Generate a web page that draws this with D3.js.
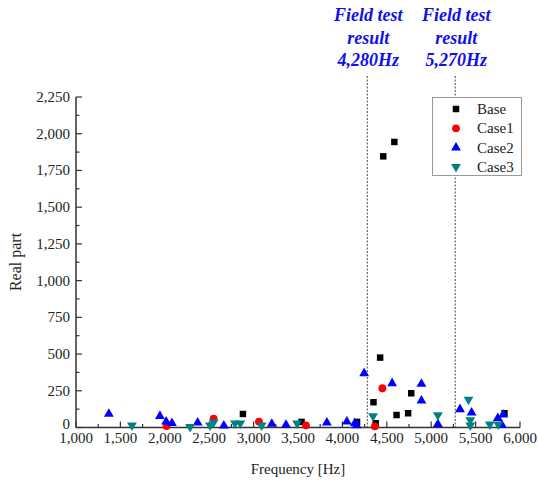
<!DOCTYPE html>
<html>
  <head>
    <meta charset="utf-8">
    <title>Real part vs frequency</title>
    <script src="https://d3js.org/d3.v7.min.js"></script>
    <style>
      body { margin: 0; background: #fff; }
      text { font-family: "Liberation Serif", "Times New Roman", serif; }
    </style>
  </head>
  <body>
    <div id="chart"></div>
    <script>
      // data: [frequency Hz, real part]
      var baseData = [[2880, 92], [3540, 38], [4165, 38], [4350, 172], [4375, 29], [4425, 476],
        [4460, 1846], [4585, 1944], [4610, 85], [4740, 97], [4775, 233], [5825, 97]];
      var case1Data = [[2020, 10], [2550, 60], [3060, 40], [3590, 15], [4365, 8], [4450, 267]];
      var case2Data = [[1370, 92], [1945, 78], [2015, 40], [2080, 29], [2370, 33], [2665, 12],
        [3205, 24], [3365, 17], [3825, 33], [4050, 40], [4140, 29], [4160, 15], [4245, 369],
        [4560, 301], [4890, 296], [4890, 183], [5075, 22], [5325, 124], [5455, 101],
        [5750, 63], [5810, 88], [5795, 17]];
      var case3Data = [[1630, 15], [2285, 5], [2510, 15], [2550, 35], [2790, 28], [2850, 28],
        [3090, 15], [3490, 28], [4345, 78], [5075, 85], [5420, 190], [5440, 50], [5440, 15],
        [5660, 22], [5755, 22]];
      var fieldTests = [4280, 5270];
      var xTicks = [1000, 1500, 2000, 2500, 3000, 3500, 4000, 4500, 5000, 5500, 6000];
      var yTicks = [0, 250, 500, 750, 1000, 1250, 1500, 1750, 2000, 2250];

      var series = [
        { name: "Base", data: baseData, color: "#000000", shape: d3.symbolSquare, size: 42, rot: 0 },
        { name: "Case1", data: case1Data, color: "#ff0000", shape: d3.symbolCircle, size: 48, rot: 0 },
        { name: "Case2", data: case2Data, color: "#0000ff", shape: d3.symbolTriangle, size: 42, rot: 0 },
        { name: "Case3", data: case3Data, color: "#008080", shape: d3.symbolTriangle, size: 42, rot: 180 }
      ];

      var width = 538, height = 481;
      var x = d3.scaleLinear().domain([1000, 6000]).range([76, 520]);
      var y = d3.scaleLinear().domain([0, 2250]).range([427.5, 97]);

      var svg = d3.select("#chart").append("svg")
        .attr("width", width).attr("height", height);

      // field test lines
      svg.selectAll(".ft").data(fieldTests).enter().append("line")
        .attr("x1", d => x(d)).attr("x2", d => x(d))
        .attr("y1", 76).attr("y2", y(0))
        .attr("stroke", "#444").attr("stroke-width", 1)
        .attr("stroke-dasharray", "2,1.5");

      var ann = svg.selectAll(".ann").data(fieldTests).enter().append("text")
        .attr("text-anchor", "middle")
        .attr("fill", "#1010e8")
        .style("font-weight", "bold").style("font-style", "italic").style("font-size", "18px");
      ann.append("tspan").attr("x", d => x(d) + 1).attr("y", 21).text("Field test");
      ann.append("tspan").attr("x", d => x(d) + 1).attr("y", 44).text("result");
      ann.append("tspan").attr("x", d => x(d) + 1).attr("y", 66).text(d => d3.format(",")(d) + "Hz");

      // axes
      var axisColor = "#333";
      var xMinor = d3.range(1250, 6000, 500);
      var yMinor = d3.range(125, 2250, 250);

      svg.append("line").attr("x1", x(1000)).attr("x2", x(6000))
        .attr("y1", y(0)).attr("y2", y(0)).attr("stroke", axisColor).attr("stroke-width", 1.5);
      svg.append("line").attr("x1", x(1000)).attr("x2", x(1000))
        .attr("y1", y(0)).attr("y2", y(2250)).attr("stroke", axisColor).attr("stroke-width", 1.5);

      svg.selectAll(".xt").data(xTicks.concat(xMinor)).enter().append("line")
        .attr("x1", d => x(d)).attr("x2", d => x(d))
        .attr("y1", y(0)).attr("y2", d => y(0) - (xTicks.includes(d) ? 6 : 3.5))
        .attr("stroke", axisColor).attr("stroke-width", 1.2);
      svg.selectAll(".yt").data(yTicks.concat(yMinor)).enter().append("line")
        .attr("y1", d => y(d)).attr("y2", d => y(d))
        .attr("x1", x(1000)).attr("x2", d => x(1000) + (yTicks.includes(d) ? 6 : 3.5))
        .attr("stroke", axisColor).attr("stroke-width", 1.2);

      svg.selectAll(".xl").data(xTicks).enter().append("text")
        .attr("x", d => x(d)).attr("y", 443)
        .attr("text-anchor", "middle").style("font-size", "15px").attr("fill", "#222")
        .text(d => d3.format(",")(d));
      svg.selectAll(".yl").data(yTicks).enter().append("text")
        .attr("x", 70).attr("y", d => y(d) + (d === 0 ? 1 : 5))
        .attr("text-anchor", "end").style("font-size", "15px").attr("fill", "#222")
        .text(d => d3.format(",")(d));

      svg.append("text").attr("x", 298).attr("y", 474).attr("text-anchor", "middle")
        .style("font-size", "15px").attr("fill", "#222").text("Frequency [Hz]");
      svg.append("text").attr("transform", "translate(21,262) rotate(-90)")
        .attr("text-anchor", "middle").style("font-size", "16px").attr("fill", "#222")
        .text("Real part");

      // points
      series.forEach(function(s) {
        var sym = d3.symbol().type(s.shape).size(s.size);
        svg.selectAll(null).data(s.data).enter().append("path")
          .attr("d", sym)
          .attr("transform", d => "translate(" + x(d[0]) + "," + y(d[1]) + ") rotate(" + s.rot + ")")
          .attr("fill", s.color);
      });

      // legend
      var lg = svg.append("g");
      lg.append("rect").attr("x", 432.5).attr("y", 97.5).attr("width", 89).attr("height", 78)
        .attr("fill", "#fff").attr("stroke", "#999").attr("stroke-width", 1);
      series.forEach(function(s, i) {
        var yy = 109 + i * 19.3;
        lg.append("path").attr("d", d3.symbol().type(s.shape).size(s.size)())
          .attr("transform", "translate(456," + yy + ") rotate(" + s.rot + ")")
          .attr("fill", s.color);
        lg.append("text").attr("x", 477).attr("y", yy + 5)
          .style("font-size", "15px").attr("fill", "#222").text(s.name);
      });
    </script>
  </body>
</html>
